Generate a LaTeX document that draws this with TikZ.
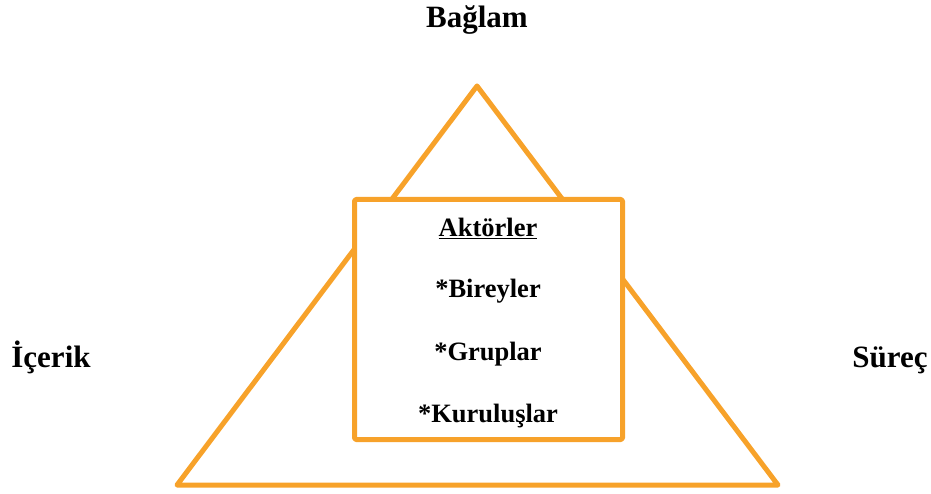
\documentclass[tikz,border=0pt]{standalone}
\usepackage{fontspec}
\setmainfont{Liberation Serif}
\definecolor{tri}{RGB}{247,162,42}
\begin{document}
\begin{tikzpicture}[x=1pt,y=-1pt,
  edge/.style={draw=tri,line width=5pt,line join=round},
  outer/.style={anchor=base,inner sep=0pt,font=\fontsize{31}{36}\selectfont\bfseries},
  inner/.style={anchor=base,inner sep=0pt,font=\fontsize{26.5}{31}\selectfont\bfseries}]
\useasboundingbox (0,0) rectangle (931,494);
\coordinate (apex) at (477,86);
\coordinate (bl) at (177,485);
\coordinate (br) at (778,485);
\draw[edge] (apex) -- (bl) -- (br) -- cycle;
\draw[edge,fill=white,rounded corners=1.5pt] (354.5,199.5) rectangle (622.5,439.5);
\node[outer] (baglam) at (477,28) {Bağlam};
\node[outer] (icerik) at (51,367) {İçerik};
\node[outer] (surec) at (890,367) {Süreç};
\node[inner] (akt) at (488,237) {\underline{Aktörler}};
\node[inner] (bir) at (488,298) {*Bireyler};
\node[inner] (gru) at (488,360) {*Gruplar};
\node[inner] (kur) at (488,422) {*Kuruluşlar};
\end{tikzpicture}
\end{document}
